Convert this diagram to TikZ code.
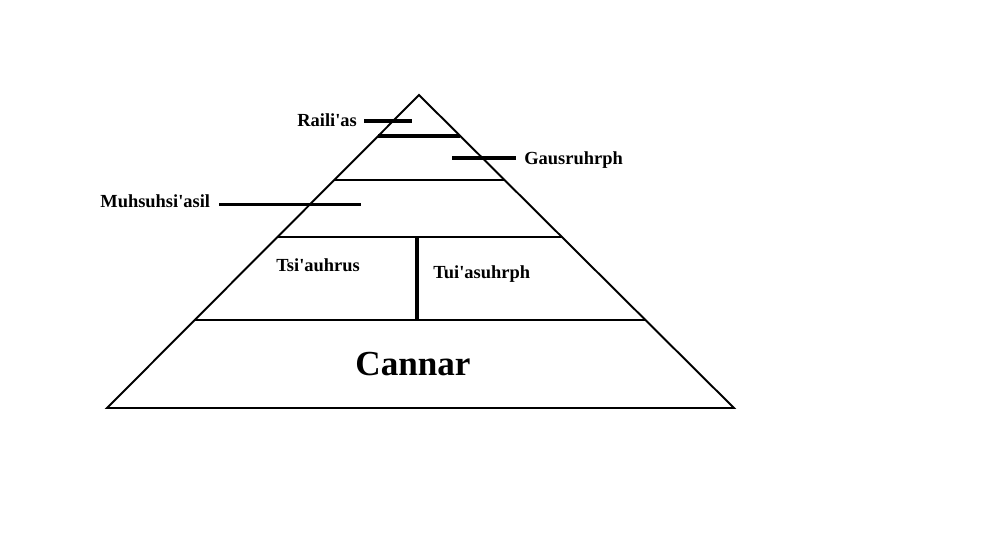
\documentclass[tikz,border=0pt]{standalone}
\usepackage{fontspec}
\setmainfont{Liberation Serif}
\usetikzlibrary{calc,positioning}
\newcommand{\ap}{\textquotesingle}

\begin{document}
\begin{tikzpicture}[
  x=0.02cm, y=-0.02cm,
  edge/.style={line width=1.1pt},
  bar/.style={line width=2.2pt},
  lead/.style={line width=1.4pt},
  lab/.style={font=\bfseries\fontsize{10.5}{12}\selectfont, inner sep=0pt, anchor=base west},
  big/.style={font=\bfseries\fontsize{20}{24}\selectfont, inner sep=0pt, anchor=base}
]
\useasboundingbox (0,0) rectangle (1000,539);
\coordinate (apex) at (419,95);
\coordinate (bl) at (107,408);
\coordinate (br) at (734,408);
\draw[edge] (bl) -- (apex) -- (br) -- cycle;

% tiers
\draw[bar] ($(apex)!0.131!(bl)$) -- ($(apex)!0.131!(br)$);
\draw[edge] ($(apex)!0.2716!(bl)$) -- ($(apex)!0.2716!(br)$);
\draw[edge] ($(apex)!0.4537!(bl)$) -- ($(apex)!0.4537!(br)$);
\draw[edge] ($(apex)!0.7188!(bl)$) -- ($(apex)!0.7188!(br)$);
\draw[bar] (417,237) -- (417,320);

\node[lab] (raili) at (297,126) {Raili\ap as};
\node[lab] (gaus) at (524,164) {Gausruhrph};
\node[lab] (muhs) at (100,207) {Muhsuhsi\ap asil};
\node[lab] (tsi) at (276,271) {Tsi\ap auhrus};
\node[lab] (tui) at (433,278) {Tui\ap asuhrph};
\node[big] (cannar) at (413,375) {Cannar};

\draw[bar] (raili.east) ++(7,1) -- ++(48,0);
\draw[bar] (gaus.west) ++(-8,-2) -- ++(-64,0);
\draw[lead] (muhs.east) ++(9,4) -- ++(142,0);
\end{tikzpicture}
\end{document}
